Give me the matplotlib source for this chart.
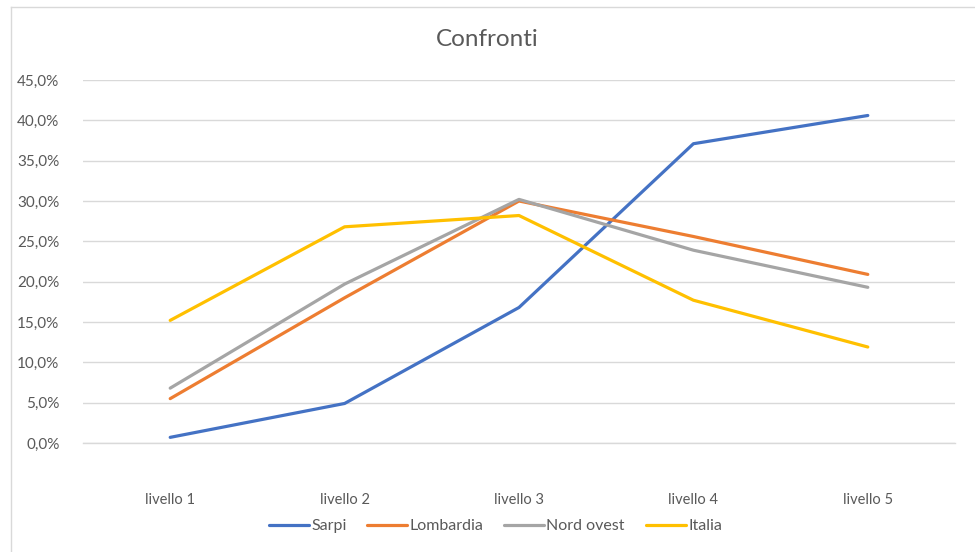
import matplotlib.pyplot as plt
from matplotlib.lines import Line2D
from matplotlib.ticker import FuncFormatter

categorie = ["livello 1", "livello 2", "livello 3", "livello 4", "livello 5"]
sarpi = [0.7, 4.9, 16.8, 37.1, 40.6]
lombardia = [5.5, 18.0, 30.0, 25.6, 20.9]
nord_ovest = [6.8, 19.7, 30.2, 23.9, 19.3]
italia = [15.2, 26.8, 28.2, 17.7, 11.9]

serie = ["Sarpi", "Lombardia", "Nord ovest", "Italia"]
colori = ["#4472C4", "#ED7D31", "#A5A5A5", "#FFC000"]
testo = "#595959"

plt.rcParams['font.family'] = ['Lato', 'DejaVu Sans']

fig = plt.figure(figsize=(9.75, 5.52), dpi=100)
ax = fig.add_axes([83/975, 1 - 443/552, (955-83)/975, (443-80)/552])

x = range(len(categorie))
for nome, valori, c in zip(serie, [sarpi, lombardia, nord_ovest, italia], colori):
    ax.plot(x, valori, color=c, lw=2.3, label=nome, solid_capstyle='round', zorder=3)

ax.set_xlim(-0.5, len(categorie) - 0.5)
ax.set_ylim(0, 45)
ax.set_yticks(range(0, 46, 5))
ax.yaxis.set_major_formatter(FuncFormatter(lambda v, p: f"{v:.1f}%".replace(".", ",")))
ax.set_xticks(list(x))
ax.set_xticklabels(categorie)
ax.grid(axis='y', color="#D9D9D9", lw=1)
ax.axhline(0, color="#D9D9D9", lw=1, clip_on=False, zorder=1)
ax.set_axisbelow(True)
for s in ax.spines.values():
    s.set_visible(False)
ax.tick_params(axis='y', length=0, pad=17, labelsize=11, labelcolor=testo)
ax.tick_params(axis='x', length=0, pad=36, labelsize=10.5, labelcolor=testo)

fig.text(0.5, 1 - 40/552, "Confronti", ha='center', va='center', fontsize=17.5, color=testo)

ax.legend(loc='center', bbox_to_anchor=(0.508, 1 - 526/552), bbox_transform=fig.transFigure,
          ncol=4, frameon=False, fontsize=11.5, handlelength=2.5, handletextpad=0.15,
          columnspacing=1.3, labelcolor=testo)

# bordo del grafico (solo sopra e a sinistra, il resto e' tagliato)
fig.add_artist(Line2D([11/975, 1], [1 - 7/552, 1 - 7/552], transform=fig.transFigure, color="#D9D9D9", lw=1))
fig.add_artist(Line2D([11/975, 11/975], [0, 1 - 7/552], transform=fig.transFigure, color="#D9D9D9", lw=1))

fig.savefig("out.png", dpi=100)
